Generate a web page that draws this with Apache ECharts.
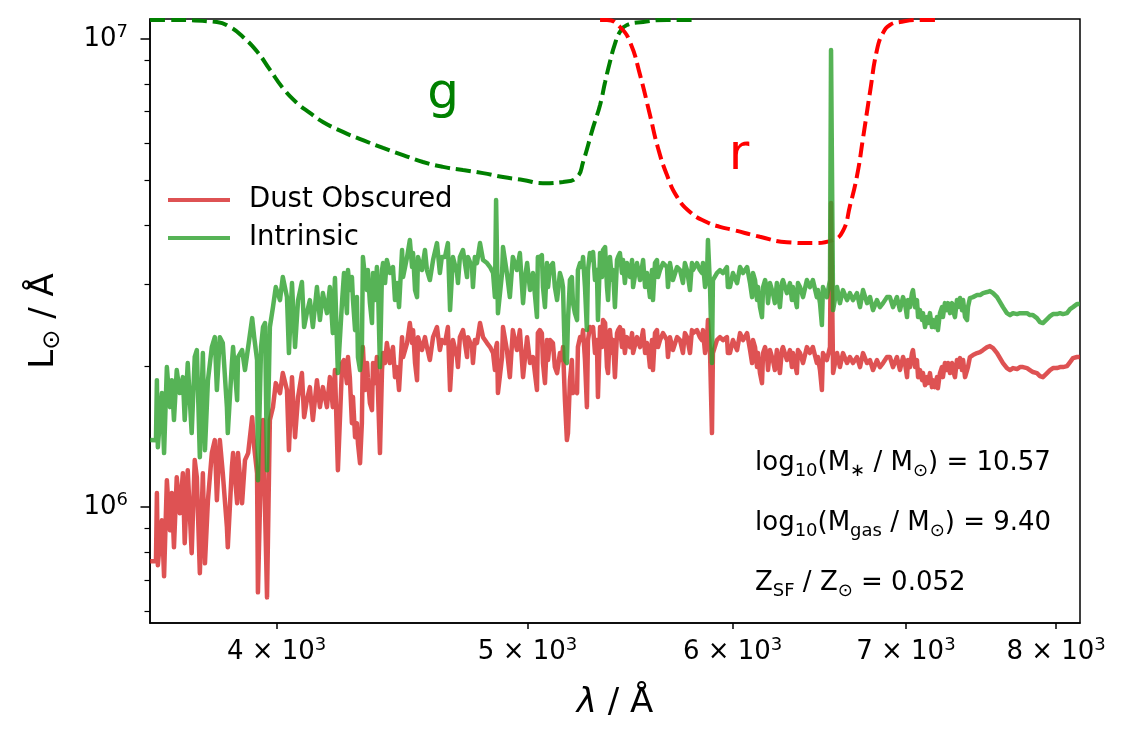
<!DOCTYPE html>
<html>
<head>
<meta charset="utf-8">
<script src="https://cdn.jsdelivr.net/npm/echarts@6/dist/echarts.min.js"></script>
<style>
  html, body { margin: 0; padding: 0; background: #fff; }
  #chart { width: 1125px; height: 748px; }
</style>
</head>
<body>
<div id="chart"></div>
<script>
// wavelength grid (Angstrom), shared by both spectra
const wavelength = [
  3574,3593,3596,3599,3612,3619,3628,3638,3644,3651,
  3660,3670,3680,3686,3696,3709,3719,3726,3736,3746,
  3753,3763,3776,3786,3793,3803,3813,3827,3830,3844,
  3848,3862,3865,3879,3889,3900,3914,3921,3931,3934,
  3945,3952,3959,3966,3976,3987,3997,4012,4022,4037,
  4044,4055,4066,4077,4091,4099,4109,4120,4131,4146,
  4157,4168,4183,4194,4205,4213,4224,
  4240,4247,4258,4262,4269,4277,4281,4289,4296,4300,
  4308,4315,4319,4327,4335,4338,4346,4354,4358,4366,
  4373,4377,4385,4393,4397,4405,4412,4424,4436,4444,
  4452,4460,4472,4476,4492,4503,4512,4516,4524,4532,
  4536,4552,4564,4572,4584,4597,4613,4625,4633,4646,
  4658,4667,4679,4696,4700,4708,4721,4738,4742,4759,
  4763,4771,4780,4793,4806,4823,4836,4849,4857,4862,
  4866,4870,4888,4892,4909,4922,4935,4953,4966,4980,
  4989,4998,5011,5024,5042,5046,
  5055,5064,5069,5078,5087,5092,5101,5114,5123,5133,
  5146,5155,5160,5169,5178,5183,5192,5201,5206,5215,
  5225,5229,5239,5248,5253,5262,5271,5276,5285,5295,
  5300,5309,5318,5323,5333,5342,5347,5357,5366,5371,
  5380,5390,5395,5404,5414,5419,5428,5438,5443,5452,
  5462,5477,5487,5492,5511,5526,5541,5551,5560,5565,
  5575,5585,5590,5600,5610,5615,5625,5640,5660,5665,
  5675,5690,5711,5726,5741,5751,5762,5777,5787,5792,
  5813,5828,5839,5844,5855,5865,5870,5881,5891,5896,
  5917,5933,5949,5970,5975,
  5986,6002,6024,6040,6056,6078,6094,6105,6110,6121,
  6132,6137,6148,6159,6165,6176,6187,6192,6203,6219,
  6230,6241,6258,6269,6275,6297,6314,6325,6331,6353,
  6359,6371,6388,6410,6427,6444,6467,6473,6485,6496,
  6502,6525,6543,6549,6561,6584,6601,6619,6643,6660,
  6678,6702,6720,6738,6762,6780,6798,6822,6840,6859,
  6883,
  6901,6920,6944,6963,6982,6994,7007,7013,7025,7038,
  7044,7057,7069,7076,7088,7101,7107,7120,7132,7139,
  7151,7164,7170,7183,7196,7202,7215,7228,7234,7247,
  7260,7267,7280,7293,7299,7312,7325,7332,7345,7358,
  7365,7378,7391,7397,7410,7430,7457,7477,7497,7524,
  7543,7564,7591,7611,7631,7658,7679,7699,7727,7747,
  7768,7796,7816,7837,7865,7886,7907,7936,7957,7978,
  8006,8028,8049,8078,8100,8121,8150,8172
];

// intrinsic spectrum (L_sun / A)
const intrinsic = [
  1.391e6,1.39e6,1.868e6,1.343e6,1.753e6,1.305e6,1.992e6,1.636e6,1.868e6,1.535e6,
  1.963e6,1.753e6,1.896e6,1.535e6,2.032e6,1.44e6,2.093e6,2.166e6,1.279e6,2.134e6,
  1.324e6,1.868e6,2.198e6,2.308e6,1.779e6,2.308e6,2.242e6,1.636e6,1.44e6,2.032e6,
  2.198e6,1.693e6,2.093e6,2.166e6,1.963e6,2.198e6,2.534e6,2.308e6,2.062e6,1.142e6,
  2.198e6,2.425e6,2.473e6,1.2e6,2.425e6,2.675e6,2.952e6,2.769e6,3.101e6,2.81e6,
  2.134e6,3.011e6,2.198e6,2.769e6,3.026e6,2.425e6,2.597e6,2.769e6,2.425e6,2.952e6,
  2.51e6,2.866e6,2.597e6,2.952e6,2.354e6,3.086e6,1.934e6,
  2.769e6,3.163e6,2.597e6,3.21e6,2.909e6,3.101e6,2.769e6,2.389e6,2.81e6,2.093e6,
  1.963e6,2.166e6,3.422e6,3.101e6,2.909e6,3.21e6,2.728e6,2.473e6,3.163e6,2.769e6,
  3.258e6,3.011e6,1.992e6,3.21e6,3.322e6,3.011e6,3.372e6,3.163e6,3.258e6,2.769e6,
  3.011e6,2.675e6,3.542e6,3.101e6,3.422e6,3.72e6,3.258e6,3.49e6,2.909e6,2.81e6,
  3.422e6,3.21e6,3.542e6,3.21e6,3.056e6,3.372e6,3.665e6,3.163e6,3.422e6,3.422e6,
  3.665e6,2.636e6,3.422e6,3.163e6,3.011e6,3.422e6,3.542e6,3.101e6,3.422e6,3.258e6,
  2.952e6,3.422e6,3.322e6,3.665e6,3.372e6,3.322e6,3.258e6,3.163e6,2.81e6,4.529e6,
  3.422e6,2.597e6,3.163e6,3.594e6,3.163e6,2.81e6,3.422e6,3.21e6,3.49e6,2.728e6,
  3.101e6,3.322e6,2.909e6,3.163e6,2.547e6,3.422e6,
  3.422e6,3.456e6,2.952e6,2.675e6,3.322e6,2.952e6,3.258e6,3.322e6,2.952e6,2.769e6,
  3.163e6,3.056e6,2.952e6,2.062e6,2.032e6,2.51e6,3.056e6,3.101e6,2.728e6,2.597e6,
  2.51e6,3.21e6,3.322e6,3.258e6,3.422e6,2.952e6,2.389e6,3.21e6,3.49e6,3.372e6,
  3.507e6,3.056e6,3.21e6,2.51e6,3.49e6,3.101e6,3.542e6,3.594e6,2.952e6,2.769e6,
  3.422e6,3.056e6,3.21e6,2.675e6,3.372e6,3.422e6,3.49e6,3.163e6,3.372e6,3.011e6,
  3.322e6,3.101e6,3.372e6,2.952e6,3.322e6,3.056e6,3.372e6,2.952e6,3.163e6,3.056e6,
  2.81e6,3.21e6,2.769e6,3.322e6,3.372e6,3.101e6,3.21e6,3.322e6,3.258e6,2.952e6,
  3.322e6,3.056e6,3.258e6,3.21e6,3.011e6,3.322e6,3.21e6,2.909e6,3.322e6,3.21e6,
  3.322e6,3.21e6,3.163e6,3.322e6,2.952e6,3.101e6,3.72e6,2.952e6,2.032e6,3.056e6,
  3.163e6,3.21e6,3.163e6,3.258e6,2.952e6,
  2.952e6,3.163e6,3.011e6,3.258e6,3.163e6,3.258e6,3.011e6,2.81e6,3.163e6,3.056e6,
  2.769e6,2.952e6,2.675e6,2.547e6,2.952e6,3.056e6,2.909e6,2.728e6,3.011e6,2.866e6,
  2.728e6,3.011e6,2.675e6,3.011e6,3.056e6,2.866e6,3.011e6,2.769e6,2.952e6,2.675e6,
  3.011e6,2.952e6,2.81e6,3.056e6,2.952e6,3.056e6,2.81e6,2.909e6,2.728e6,2.449e6,
  2.952e6,2.81e6,3.056e6,9.473e6,2.636e6,2.952e6,2.728e6,2.909e6,2.769e6,2.866e6,
  2.769e6,2.866e6,2.675e6,2.909e6,2.728e6,2.81e6,2.636e6,2.769e6,2.675e6,2.728e6,
  2.81e6,
  2.81e6,2.675e6,2.81e6,2.636e6,2.81e6,2.728e6,2.547e6,2.769e6,2.675e6,2.866e6,
  2.909e6,2.675e6,2.769e6,2.547e6,2.636e6,2.51e6,2.597e6,2.425e6,2.547e6,2.473e6,
  2.597e6,2.425e6,2.51e6,2.425e6,2.547e6,2.389e6,2.597e6,2.675e6,2.547e6,2.728e6,
  2.636e6,2.728e6,2.597e6,2.728e6,2.636e6,2.547e6,2.769e6,2.675e6,2.797e6,2.636e6,
  2.769e6,2.547e6,2.51e6,2.675e6,2.797e6,2.81e6,2.838e6,2.838e6,2.866e6,2.881e6,
  2.895e6,2.866e6,2.81e6,2.742e6,2.675e6,2.597e6,2.572e6,2.597e6,2.585e6,2.597e6,
  2.597e6,2.597e6,2.572e6,2.572e6,2.534e6,2.485e6,2.473e6,2.522e6,2.559e6,2.585e6,
  2.585e6,2.597e6,2.585e6,2.597e6,2.649e6,2.675e6,2.715e6,2.715e6
];

// dust obscured spectrum (L_sun / A)
const obscured = [
  7.67e5,7.67e5,1.072e6,7.52e5,9.38e5,7.12e5,1.142e6,8.93e5,1.072e6,8.21e5,
  1.159e6,9.71e5,1.182e6,8.38e5,1.2e6,7.98e5,1.261e6,1.159e6,7.23e5,1.182e6,
  7.59e5,1.035e6,1.305e6,1.391e6,1.035e6,1.391e6,1.182e6,9.07e5,8.21e5,1.218e6,
  1.305e6,1.02e6,1.305e6,1.02e6,1.261e6,1.305e6,1.557e6,1.344e6,1.182e6,6.58e5,
  1.261e6,1.535e6,1.535e6,6.42e5,1.535e6,1.636e6,1.841e6,1.753e6,1.934e6,1.779e6,
  1.324e6,1.896e6,1.411e6,1.719e6,1.934e6,1.557e6,1.693e6,1.805e6,1.535e6,1.868e6,
  1.636e6,1.805e6,1.636e6,1.896e6,1.636e6,1.963e6,1.2e6,
  2.032e6,2.062e6,1.841e6,2.093e6,1.896e6,1.512e6,1.719e6,1.411e6,1.512e6,1.37e6,
  1.242e6,1.512e6,2.198e6,1.779e6,2.032e6,1.896e6,1.668e6,1.612e6,2.032e6,1.841e6,
  2.093e6,1.779e6,1.305e6,1.963e6,2.134e6,2.032e6,2.242e6,2.032e6,2.198e6,1.896e6,
  1.992e6,1.779e6,2.308e6,2.093e6,2.242e6,2.473e6,2.242e6,2.389e6,2.032e6,1.868e6,
  2.308e6,2.166e6,2.308e6,2.198e6,2.062e6,2.308e6,2.425e6,2.166e6,2.275e6,2.242e6,
  2.425e6,1.779e6,2.275e6,2.093e6,1.992e6,2.308e6,2.389e6,2.093e6,2.308e6,2.198e6,
  2.032e6,2.275e6,2.242e6,2.473e6,2.308e6,2.242e6,2.198e6,2.134e6,1.963e6,2.198e6,
  2.242e6,1.753e6,2.093e6,2.425e6,2.166e6,1.896e6,2.389e6,2.166e6,2.389e6,1.896e6,
  2.093e6,2.308e6,2.032e6,2.093e6,1.779e6,2.354e6,
  2.389e6,2.354e6,2.032e6,1.841e6,2.275e6,2.062e6,2.275e6,2.242e6,1.992e6,1.934e6,
  2.134e6,2.062e6,2.198e6,1.693e6,1.391e6,1.44e6,1.868e6,2.062e6,1.753e6,1.779e6,
  1.753e6,2.198e6,2.308e6,2.275e6,2.389e6,2.062e6,1.636e6,2.275e6,2.425e6,2.389e6,
  2.425e6,2.134e6,2.275e6,1.719e6,2.425e6,2.198e6,2.51e6,2.473e6,1.992e6,1.934e6,
  2.389e6,2.134e6,2.275e6,1.896e6,2.354e6,2.389e6,2.425e6,2.198e6,2.389e6,2.134e6,
  2.308e6,2.198e6,2.354e6,2.134e6,2.308e6,2.198e6,2.389e6,2.134e6,2.242e6,2.198e6,
  1.992e6,2.275e6,1.963e6,2.354e6,2.389e6,2.198e6,2.275e6,2.354e6,2.275e6,2.093e6,
  2.308e6,2.166e6,2.308e6,2.275e6,2.134e6,2.354e6,2.308e6,2.134e6,2.389e6,2.354e6,
  2.389e6,2.308e6,2.275e6,2.389e6,2.134e6,2.275e6,2.51e6,2.134e6,1.44e6,2.134e6,
  2.275e6,2.308e6,2.275e6,2.308e6,2.134e6,
  2.134e6,2.275e6,2.166e6,2.354e6,2.275e6,2.354e6,2.166e6,2.032e6,2.275e6,2.198e6,
  1.992e6,2.134e6,1.934e6,1.841e6,2.134e6,2.198e6,2.093e6,1.963e6,2.166e6,2.062e6,
  1.963e6,2.166e6,1.934e6,2.166e6,2.198e6,2.062e6,2.166e6,1.992e6,2.134e6,1.934e6,
  2.166e6,2.134e6,2.032e6,2.198e6,2.134e6,2.198e6,2.032e6,2.093e6,1.963e6,1.779e6,
  2.134e6,2.062e6,2.198e6,4.462e6,1.934e6,2.134e6,1.992e6,2.134e6,2.032e6,2.093e6,
  2.032e6,2.093e6,1.992e6,2.134e6,2.032e6,2.062e6,1.963e6,2.062e6,1.992e6,2.032e6,
  2.093e6,
  2.093e6,1.992e6,2.093e6,1.963e6,2.093e6,2.032e6,1.896e6,2.062e6,1.992e6,2.134e6,
  2.166e6,1.992e6,2.062e6,1.896e6,1.963e6,1.868e6,1.934e6,1.823e6,1.896e6,1.841e6,
  1.934e6,1.805e6,1.868e6,1.805e6,1.896e6,1.795e6,1.934e6,1.992e6,1.896e6,2.032e6,
  1.963e6,2.032e6,1.934e6,2.032e6,1.963e6,1.896e6,2.062e6,1.992e6,2.082e6,1.963e6,
  2.062e6,1.896e6,1.887e6,1.992e6,2.093e6,2.113e6,2.134e6,2.145e6,2.166e6,2.198e6,
  2.209e6,2.187e6,2.134e6,2.082e6,2.032e6,1.982e6,1.963e6,1.982e6,1.973e6,1.992e6,
  1.992e6,1.982e6,1.963e6,1.944e6,1.934e6,1.906e6,1.896e6,1.934e6,1.963e6,1.982e6,
  1.982e6,1.992e6,1.992e6,2.002e6,2.042e6,2.082e6,2.093e6,2.093e6
];

// g and r filter transmission curves, scaled to the plot
const gWave = [3574,3628,3793,3837,3882,3931,3976,4022,4073,4120,4168,4243,4319,4397,4476,4556,4638,4721,4806,4892,4980,5069,5160,5225,5253,5299,5333,5357,5380,5404,5428,5462,5541,5660,5813];
const gCurve = [1.098e7,1.098e7,1.087e7,1.061e7,1.01e7,9.4e6,8.6e6,7.86e6,7.3e6,6.95e6,6.65e6,6.33e6,6.08e6,5.85e6,5.65e6,5.46e6,5.33e6,5.25e6,5.17e6,5.07e6,5.0e6,4.92e6,4.95e6,5.07e6,5.46e6,6.45e6,7.23e6,8.09e6,8.93e6,9.76e6,1.035e7,1.071e7,1.087e7,1.098e7,1.098e7];
const rWave = [5333,5366,5428,5477,5526,5575,5615,5660,5711,5777,5865,5933,6002,6148,6297,6444,6560,6619,6660,6702,6738,6780,6822,6859,6901,6963,7088,7215];
const rCurve = [1.098e7,1.098e7,1.061e7,9.85e6,8.38e6,6.88e6,5.85e6,5.12e6,4.6e6,4.27e6,4.06e6,3.97e6,3.91e6,3.78e6,3.68e6,3.665e6,3.72e6,3.89e6,4.4e6,5.1e6,6.14e6,7.7e6,9.47e6,1.03e7,1.071e7,1.087e7,1.098e7,1.098e7];

// axes
const xTicks = [4000, 5000, 6000, 7000, 8000];
const yMajor = [1e6, 1e7];
const yMinor = [6e5, 7e5, 8e5, 9e5, 2e6, 3e6, 4e6, 5e6, 6e6, 7e6, 8e6, 9e6];
const xRange = [3574, 8172];
const yRange = [5.66e5, 1.103e7];

const FONT = 'DejaVu Sans';
const RED = 'rgba(214,39,40,0.8)';
const GREEN = 'rgba(44,160,44,0.8)';

function pairs(xs, ys) {
  if (xs.length !== ys.length) console.error('length mismatch', xs.length, ys.length);
  return xs.map((x, i) => [x, ys[i]]);
}

const tickRich = {
  m: { fontSize: 26, lineHeight: 32, fontFamily: FONT, color: '#000' },
  s: { fontSize: 18, lineHeight: 17, fontFamily: FONT, color: '#000', verticalAlign: 'top' }
};
const annoRich = {
  t: { fontSize: 26, lineHeight: 34, fontFamily: FONT, color: '#000' },
  s: { fontSize: 18, lineHeight: 16, fontFamily: FONT, color: '#000', verticalAlign: 'bottom' }
};
const titleRich = {
  t: { fontSize: 34, lineHeight: 42, fontFamily: FONT, color: '#000' },
  i: { fontSize: 34, lineHeight: 42, fontFamily: FONT, color: '#000', fontStyle: 'italic' },
  s: { fontSize: 24, lineHeight: 22, fontFamily: FONT, color: '#000', verticalAlign: 'bottom' }
};

const chart = echarts.init(document.getElementById('chart'));

const option = {
  animation: false,
  backgroundColor: '#fff',
  textStyle: { fontFamily: FONT },
  grid: {
    left: 150, right: 45, top: 19, bottom: 125,
    show: true, borderColor: '#000', borderWidth: 1.5,
    containLabel: false, outerBoundsMode: 'none'
  },
  legend: {
    data: ['Dust Obscured', 'Intrinsic'],
    orient: 'vertical',
    left: 168, top: 186,
    padding: 0,
    itemWidth: 62, itemHeight: 4, itemGap: 10,
    icon: 'rect',
    itemStyle: { borderWidth: 0 },
    textStyle: { fontSize: 27.5, lineHeight: 27, fontFamily: FONT, color: '#000', padding: [0, 0, 0, 14] }
  },
  xAxis: {
    type: 'log', logBase: 10,
    min: xRange[0], max: xRange[1],
    splitLine: { show: false },
    axisLine: { show: true, onZero: false, lineStyle: { color: '#000', width: 1.5 } },
    axisTick: { show: true, customValues: xTicks, length: 6, lineStyle: { color: '#000', width: 1.5 } },
    minorTick: { show: false },
    axisLabel: {
      customValues: xTicks, margin: 13,
      formatter: v => '{m|' + Math.round(v / 1000) + ' × 10}{s|3}',
      rich: tickRich
    }
  },
  yAxis: [
    {
      type: 'log', logBase: 10, position: 'left',
      min: yRange[0], max: yRange[1],
      splitLine: { show: false },
      axisLine: { show: true, onZero: false, lineStyle: { color: '#000', width: 1.5 } },
      axisTick: { show: true, customValues: yMajor, length: 9.5, lineStyle: { color: '#000', width: 1.5 } },
      axisLabel: {
        customValues: yMajor, margin: 22,
        formatter: v => '{m|10}{s|' + Math.round(Math.log10(v)) + '}',
        rich: tickRich
      }
    },
    {
      type: 'log', logBase: 10, position: 'left',
      min: yRange[0], max: yRange[1],
      splitLine: { show: false },
      axisLine: { show: false, onZero: false },
      axisTick: { show: true, customValues: yMinor, length: 5.5, lineStyle: { color: '#000', width: 1.2 } },
      axisLabel: { show: false }
    }
  ],
  series: [
    {
      name: 'g band', type: 'line', data: pairs(gWave, gCurve),
      showSymbol: false, symbol: 'none', smooth: 0.5,
      lineStyle: { color: 'green', width: 4, type: [15, 6] }, z: 1
    },
    {
      name: 'r band', type: 'line', data: pairs(rWave, rCurve),
      showSymbol: false, symbol: 'none', smooth: 0.5,
      lineStyle: { color: 'red', width: 4, type: [15, 6] }, z: 1
    },
    {
      name: 'Dust Obscured', type: 'line', data: pairs(wavelength, obscured),
      showSymbol: false, symbol: 'none', color: RED,
      itemStyle: { color: RED },
      lineStyle: { color: RED, width: 4.5, join: 'round' }, z: 2
    },
    {
      name: 'Intrinsic', type: 'line', data: pairs(wavelength, intrinsic),
      showSymbol: false, symbol: 'none', color: GREEN,
      itemStyle: { color: GREEN },
      lineStyle: { color: GREEN, width: 4.5, join: 'round' }, z: 3
    }
  ],
  graphic: [
    { type: 'text', x: 443, y: 95, z: 10,
      style: { text: 'g', fill: 'green', font: '50px "DejaVu Sans"', align: 'center', verticalAlign: 'middle' } },
    { type: 'text', x: 739, y: 156, z: 10,
      style: { text: 'r', fill: 'red', font: '50px "DejaVu Sans"', align: 'center', verticalAlign: 'middle' } },
    { type: 'text', x: 755, y: 463, z: 10,
      style: { text: '{t|log}{s|10}{t|(M}{s|∗}{t| / M}{s|⊙}{t|) = 10.57}', rich: annoRich, align: 'left', verticalAlign: 'middle' } },
    { type: 'text', x: 755, y: 523, z: 10,
      style: { text: '{t|log}{s|10}{t|(M}{s|gas}{t| / M}{s|⊙}{t|) = 9.40}', rich: annoRich, align: 'left', verticalAlign: 'middle' } },
    { type: 'text', x: 755, y: 583, z: 10,
      style: { text: '{t|Z}{s|SF}{t| / Z}{s|⊙}{t| = 0.052}', rich: annoRich, align: 'left', verticalAlign: 'middle' } },
    { type: 'text', x: 615, y: 703, z: 10,
      style: { text: '{i|λ}{t| / Å}', rich: titleRich, align: 'center', verticalAlign: 'middle' } },
    { type: 'text', x: 44, y: 321, z: 10, rotation: Math.PI / 2,
      style: { text: '{t|L}{s|⊙}{t| / Å}', rich: titleRich, align: 'center', verticalAlign: 'middle' } }
  ]
};

chart.setOption(option);
</script>
</body>
</html>
